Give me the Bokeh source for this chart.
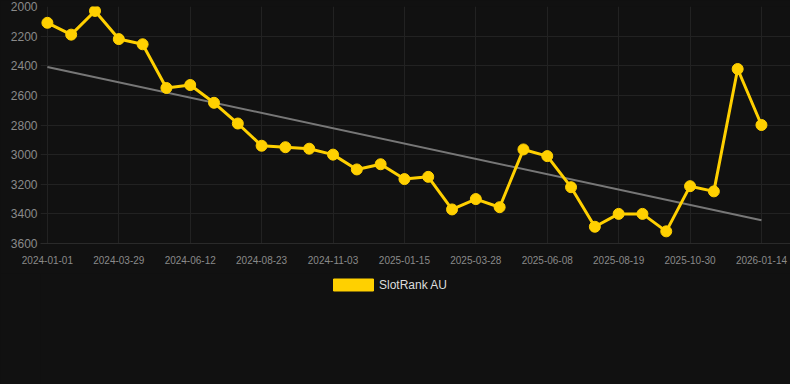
from bokeh.plotting import figure
from bokeh.layouts import column
from bokeh.models import Range1d, FixedTicker, Legend, LegendItem
from bokeh.embed import file_html
from bokeh.resources import INLINE

tick_labels = ["2024-01-01", "2024-03-29", "2024-06-12", "2024-08-23", "2024-11-03",
               "2025-01-15", "2025-03-28", "2025-06-08", "2025-08-19", "2025-10-30",
               "2026-01-14"]
ranks = [2110, 2190, 2030, 2220, 2255, 2550, 2530, 2650, 2790, 2940,
         2950, 2960, 3000, 3100, 3065, 3165, 3150, 3370, 3300, 3355,
         2965, 3010, 3220, 3487, 3400, 3400, 3518, 3213, 3248, 2422,
         2800]
trend_ends = [2408, 3443]
y_ticks = [2000, 2200, 2400, 2600, 2800, 3000, 3200, 3400, 3600]
series_name = "SlotRank AU"

idx = list(range(len(ranks)))
label_step = 3
tick_pos = idx[::label_step]

BG = "#111111"
GOLD = "#FFD000"

p = figure(width=790, height=273, output_backend="svg", toolbar_location=None,
           x_range=Range1d(-0.29, 31.22), y_range=Range1d(3600, 2000),
           min_border_left=40, min_border_right=0, min_border_top=6, min_border_bottom=30,
           background_fill_color=BG, border_fill_color=BG, outline_line_color=None)

p.xaxis.ticker = FixedTicker(ticks=tick_pos)
p.xaxis.major_label_overrides = {t: lab for t, lab in zip(tick_pos, tick_labels)}
p.yaxis.ticker = FixedTicker(ticks=y_ticks)
for ax in (p.xaxis, p.yaxis):
    ax.axis_line_color = None
    ax.major_tick_line_color = None
    ax.minor_tick_line_color = None
    ax.major_tick_out = 0
    ax.major_tick_in = 0
    ax.major_label_text_color = "#8a8a8a"
    ax.major_label_text_font = "Liberation Sans"
p.xaxis.axis_line_color = "#2a2a2a"
p.xaxis.major_label_text_font_size = "10px"
p.yaxis.major_label_text_font_size = "12px"
p.xaxis.major_label_standoff = 12
p.yaxis.major_label_standoff = 3

p.xgrid.grid_line_color = "#222222"
p.ygrid.grid_line_color = "#222222"

p.line([idx[0], idx[-1]], trend_ends, line_color="#777777", line_width=2)
p.line(idx, ranks, line_color=GOLD, line_width=3)
p.scatter(idx, ranks, size=11, fill_color=GOLD, line_color=GOLD)

# legend strip below the chart
leg = figure(width=790, height=111, output_backend="svg", toolbar_location=None,
             x_range=Range1d(0, 1), y_range=Range1d(0, 1),
             x_axis_type=None, y_axis_type=None,
             min_border_left=0, min_border_right=0, min_border_top=0, min_border_bottom=0,
             background_fill_color=BG, border_fill_color=BG, outline_line_color=None)
leg.xgrid.visible = False
leg.ygrid.visible = False
# hidden series renderer, used only for its filled legend swatch
swatch = leg.vbar(x=idx, top=ranks, width=0.8, fill_color=GOLD, line_color=GOLD, visible=False)
legend = Legend(items=[LegendItem(label=series_name, renderers=[swatch])],
                location=(288, 92), orientation="horizontal",
                background_fill_alpha=0, border_line_alpha=0,
                inactive_fill_alpha=0,
                label_text_color="#dddddd", label_text_font_size="12px",
                label_text_font="Liberation Sans",
                glyph_width=50, glyph_height=15, label_standoff=1,
                label_height=12, padding=0, margin=0)
leg.add_layout(legend, "center")

layout = column(p, leg, spacing=0, styles={"background-color": BG})
open("out.html", "w").write(file_html(layout, INLINE))
